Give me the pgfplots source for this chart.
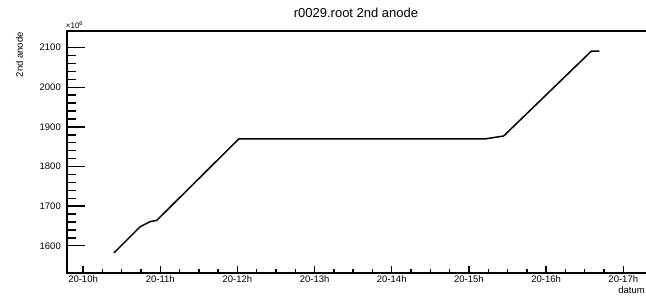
\documentclass[border=0pt]{standalone}
\usepackage{pgfplots}
\pgfplotsset{compat=1.18}
\usepackage{fontspec}
\setmainfont{Liberation Sans}
\begin{document}
\fontsize{9.5}{11}\selectfont
\begin{tikzpicture}
\begin{axis}[
 at={(0,0)}, anchor=south west,
 scale only axis, width=583pt, height=241.7pt,
 xmin=9.796, xmax=17.35, ymin=1532, ymax=2142,
 axis line style={line width=1.6pt},
 xtick={10,...,17},
 xticklabels={20-10h,20-11h,20-12h,20-13h,20-14h,20-15h,20-16h,20-17h},
 minor x tick num=3,
 ytick={1600,1700,...,2100},
 minor y tick num=4,
 xtick pos=bottom, ytick pos=left,
 tick align=inside,
 xtick style={line width=1.4pt, /pgfplots/major tick length=7pt, /pgfplots/minor tick length=3.5pt, black},
 ytick style={line width=1.4pt, /pgfplots/major tick length=17.5pt, /pgfplots/minor tick length=8.7pt, black},
 yticklabel style={font=\fontsize{9.5}{11}\selectfont, anchor=east, inner sep=0pt, xshift=-6.3pt},
 xticklabel style={font=\fontsize{9.5}{11}\selectfont, anchor=north, inner sep=0pt, yshift=-2.3pt},
 /pgf/number format/assume math mode=true,
 yticklabel={\pgfmathprintnumber[fixed,precision=0,1000 sep={}]{\tick}},
]
\addplot[black, line width=1.5pt, mark=none] coordinates {
(10.40,1582)
(10.74,1648)
(10.87,1661)
(10.955,1664)
(12.02,1870)
(15.22,1870)
(15.45,1877)
(16.585,2091)
(16.69,2091)
};
\end{axis}
\node[anchor=base, inner sep=0pt, font=\fontsize{13}{15}\selectfont] at (288.7pt,255.4pt) {r0029.root 2nd anode};
\node[anchor=base west, inner sep=0pt, font=\fontsize{8}{9}\selectfont] at (-1.6pt,244.4pt) {×10\raisebox{3pt}{\fontsize{5.5}{6}\selectfont 6}};
\node[rotate=90, anchor=base east, inner sep=0pt, font=\fontsize{9.5}{11}\selectfont] at (-44.3pt,240.7pt) {2nd anode};
\node[anchor=base east, inner sep=0pt, font=\fontsize{9.5}{11}\selectfont] at (577.7pt,-20.3pt) {datum};
\pgfresetboundingbox
\path[use as bounding box] (-67.3pt,-22.3pt) rectangle (578.7pt,272.7pt);
\end{tikzpicture}
\end{document}
